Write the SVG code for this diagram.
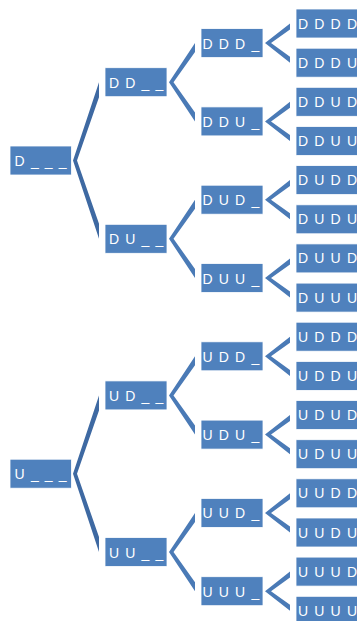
<svg xmlns="http://www.w3.org/2000/svg" width="357" height="621" viewBox="0 0 357 621">
<style>
.n rect{fill:#4f81bd;stroke:#ffffff;stroke-width:0.8}
.n text{fill:#ffffff;font-family:"Liberation Sans",Arial,sans-serif;font-size:14px;letter-spacing:1.15px;white-space:pre}
.c1{fill:#3e69a2}
.c2{fill:#4a7ab6}
</style>
<rect x="0" y="0" width="357" height="621" fill="#ffffff"/>
<g id="connectors">
<polygon class="c1" points="73,160.5 99,82.2 99,97.2 77,160.5 99,223.8 99,238.8"/>
<polygon class="c1" points="73,473.7 99,395.4 99,410.4 77,473.7 99,537 99,552"/>
<polygon class="c2" points="169,82.2 195,43.1 195,52.1 173.5,82.2 195,112.4 195,121.4"/>
<polygon class="c2" points="169,238.8 195,199.7 195,208.7 173.5,238.8 195,269 195,278"/>
<polygon class="c2" points="169,395.4 195,356.3 195,365.3 173.5,395.4 195,425.6 195,434.6"/>
<polygon class="c2" points="169,552 195,512.9 195,521.9 173.5,552 195,582.2 195,591.2"/>
<polygon class="c2" points="265,43.1 290,23.5 290,29.5 271,43.1 290,56.7 290,62.7"/>
<polygon class="c2" points="265,121.4 290,101.8 290,107.8 271,121.4 290,135 290,141"/>
<polygon class="c2" points="265,199.7 290,180.1 290,186.1 271,199.7 290,213.3 290,219.3"/>
<polygon class="c2" points="265,278 290,258.4 290,264.4 271,278 290,291.6 290,297.6"/>
<polygon class="c2" points="265,356.3 290,336.7 290,342.7 271,356.3 290,369.9 290,375.9"/>
<polygon class="c2" points="265,434.6 290,415 290,421 271,434.6 290,448.2 290,454.2"/>
<polygon class="c2" points="265,512.9 290,493.3 290,499.3 271,512.9 290,526.5 290,532.5"/>
<polygon class="c2" points="265,591.2 290,571.6 290,577.6 271,591.2 290,604.8 290,610.8"/>
</g>
<g id="n_D" class="n"><rect x="10" y="146" width="61.5" height="29"/><text x="14.6" y="166">D _ _ _</text></g>
<g id="n_U" class="n"><rect x="10" y="459.2" width="61.5" height="29"/><text x="14.6" y="479.2">U _ _ _</text></g>
<g id="n_DD" class="n"><rect x="105" y="67.7" width="62" height="29"/><text x="109" y="87.7">D D _ _</text></g>
<g id="n_DU" class="n"><rect x="105" y="224.3" width="62" height="29"/><text x="109" y="244.3">D U _ _</text></g>
<g id="n_UD" class="n"><rect x="105" y="380.9" width="62" height="29"/><text x="109" y="400.9">U D _ _</text></g>
<g id="n_UU" class="n"><rect x="105" y="537.5" width="62" height="29"/><text x="109" y="557.5">U U _ _</text></g>
<g id="n_DDD" class="n"><rect x="201" y="28.6" width="62" height="29"/><text x="202.5" y="48.6">D D D _</text></g>
<g id="n_DDU" class="n"><rect x="201" y="106.9" width="62" height="29"/><text x="202.5" y="126.9">D D U _</text></g>
<g id="n_DUD" class="n"><rect x="201" y="185.2" width="62" height="29"/><text x="202.5" y="205.2">D U D _</text></g>
<g id="n_DUU" class="n"><rect x="201" y="263.5" width="62" height="29"/><text x="202.5" y="283.5">D U U _</text></g>
<g id="n_UDD" class="n"><rect x="201" y="341.8" width="62" height="29"/><text x="202.5" y="361.8">U D D _</text></g>
<g id="n_UDU" class="n"><rect x="201" y="420.1" width="62" height="29"/><text x="202.5" y="440.1">U D U _</text></g>
<g id="n_UUD" class="n"><rect x="201" y="498.4" width="62" height="29"/><text x="202.5" y="518.4">U U D _</text></g>
<g id="n_UUU" class="n"><rect x="201" y="576.7" width="62" height="29"/><text x="202.5" y="596.7">U U U _</text></g>
<g id="n_DDDD" class="n"><rect x="296" y="9" width="64" height="29"/><text x="298" y="28.5">D D D D</text></g>
<g id="n_DDDU" class="n"><rect x="296" y="48.2" width="64" height="29"/><text x="298" y="67.7">D D D U</text></g>
<g id="n_DDUD" class="n"><rect x="296" y="87.3" width="64" height="29"/><text x="298" y="106.8">D D U D</text></g>
<g id="n_DDUU" class="n"><rect x="296" y="126.5" width="64" height="29"/><text x="298" y="146">D D U U</text></g>
<g id="n_DUDD" class="n"><rect x="296" y="165.6" width="64" height="29"/><text x="298" y="185.1">D U D D</text></g>
<g id="n_DUDU" class="n"><rect x="296" y="204.8" width="64" height="29"/><text x="298" y="224.3">D U D U</text></g>
<g id="n_DUUD" class="n"><rect x="296" y="243.9" width="64" height="29"/><text x="298" y="263.4">D U U D</text></g>
<g id="n_DUUU" class="n"><rect x="296" y="283.1" width="64" height="29"/><text x="298" y="302.6">D U U U</text></g>
<g id="n_UDDD" class="n"><rect x="296" y="322.2" width="64" height="29"/><text x="298" y="341.7">U D D D</text></g>
<g id="n_UDDU" class="n"><rect x="296" y="361.4" width="64" height="29"/><text x="298" y="380.9">U D D U</text></g>
<g id="n_UDUD" class="n"><rect x="296" y="400.5" width="64" height="29"/><text x="298" y="420">U D U D</text></g>
<g id="n_UDUU" class="n"><rect x="296" y="439.7" width="64" height="29"/><text x="298" y="459.2">U D U U</text></g>
<g id="n_UUDD" class="n"><rect x="296" y="478.8" width="64" height="29"/><text x="298" y="498.3">U U D D</text></g>
<g id="n_UUDU" class="n"><rect x="296" y="518" width="64" height="29"/><text x="298" y="537.5">U U D U</text></g>
<g id="n_UUUD" class="n"><rect x="296" y="557.1" width="64" height="29"/><text x="298" y="576.6">U U U D</text></g>
<g id="n_UUUU" class="n"><rect x="296" y="596.3" width="64" height="29"/><text x="298" y="615.8">U U U U</text></g>
</svg>
